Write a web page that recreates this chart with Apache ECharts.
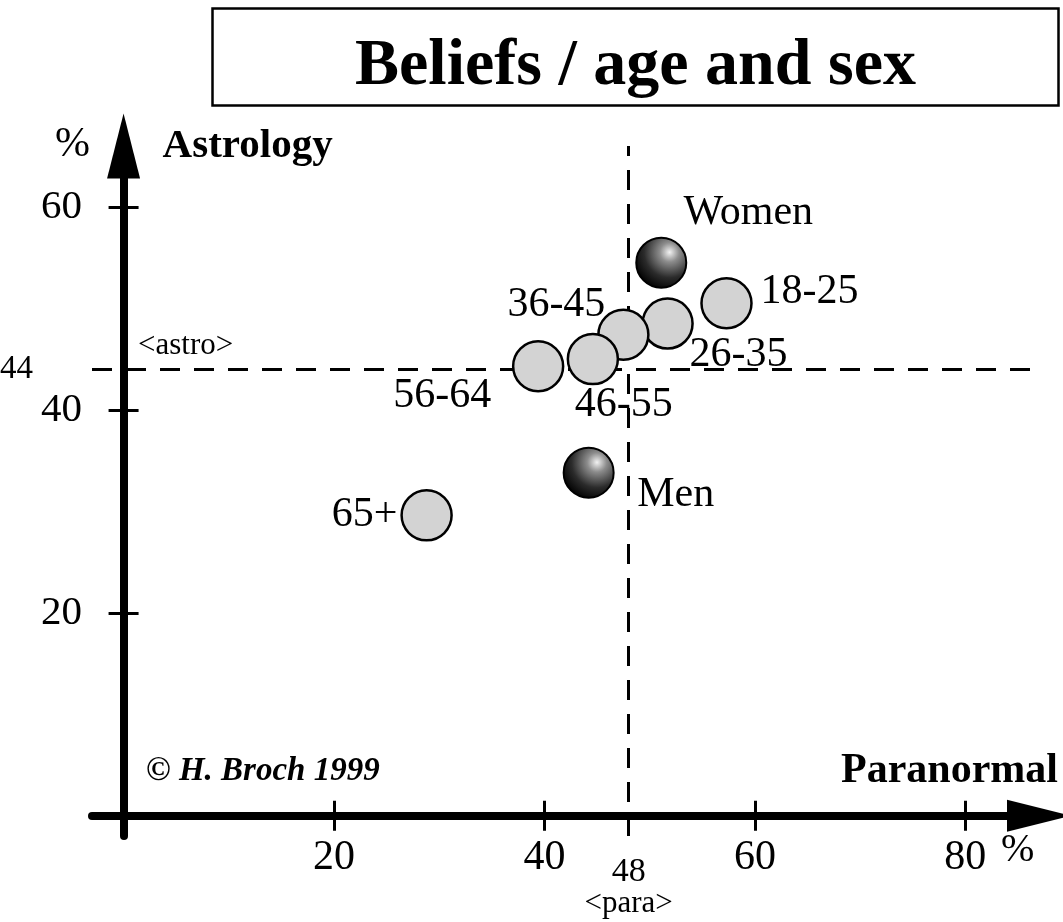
<!DOCTYPE html>
<html>
<head>
<meta charset="utf-8">
<title>Beliefs / age and sex</title>
<script src="https://cdn.jsdelivr.net/npm/echarts@6/dist/echarts.min.js"></script>
<style>
  html, body { margin: 0; padding: 0; background: #fff; }
  #chart { width: 1063px; height: 922px; }
</style>
</head>
<body>
<div id="chart"></div>
<script>
// age groups (grey discs)
var ageGroups = ['18-25', '26-35', '36-45', '46-55', '56-64', '65+'];
var ageParanormal = [57.3, 51.7, 47.5, 44.6, 39.4, 28.8];
var ageAstrology = [50.5, 48.5, 47.4, 45.0, 44.3, 29.6];
// sex (dark balls)
var sexGroups = ['Women', 'Men'];
var sexParanormal = [51.1, 44.2];
var sexAstrology = [54.5, 33.8];
// averages (dashed lines)
var meanParanormal = 48;
var meanAstrology = 44;
// tick labels
var xTickValues = [20, 40, 60, 80];
var yTickValues = [20, 40, 60];

var SERIF = "'Liberation Serif', 'DejaVu Serif', serif";

// where each name sits relative to its disc
var labelOffsets = {
	'Women': [87, -50],
	'18-25': [83, -11],
	'26-35': [71, 31],
	'36-45': [-67, -30],
	'46-55': [31, 46],
	'56-64': [-96, 30],
	'65+': [-62, 0],
	'Men': [87, 22]
};

function buildPoints(names, xs, ys) {
	var out = [];
	for (var i = 0; i < names.length; i++) {
		out.push({
			name: names[i],
			value: [xs[i], ys[i]],
			label: { offset: labelOffsets[names[i]] }
		});
	}
	return out;
}

var pointLabel = {
	show: true,
	position: 'inside',
	formatter: '{b}',
	color: '#000',
	fontFamily: SERIF,
	fontSize: 42
};

var myChart = echarts.init(document.getElementById('chart'));

var option = {
	animation: false,
	backgroundColor: '#fff',
	title: {
		text: 'Beliefs / age and sex',
		left: 212,
		top: 8,
		padding: [26, 143, 6, 143],
		borderColor: '#000',
		borderWidth: 2.5,
		textStyle: {
			fontFamily: SERIF,
			fontWeight: 'bold',
			fontSize: 66,
			color: '#000'
		}
	},
	grid: { left: 92, right: 24, top: 146, bottom: 86 },
	xAxis: [{
		type: 'value',
		min: -3,
		max: 87,
		name: 'Paranormal',
		nameLocation: 'end',
		nameGap: 19,
		nameTextStyle: {
			fontFamily: SERIF, fontWeight: 'bold', fontSize: 42, color: '#000',
			align: 'right', verticalAlign: 'bottom', padding: [0, 0, 24, 0]
		},
		axisLine: {
			onZero: true,
			symbol: ['none', 'triangle'],
			symbolSize: [32, 64],
			lineStyle: { color: '#000', width: 8 }
		},
		axisTick: { customValues: xTickValues, length: 15, lineStyle: { color: '#000', width: 3 } },
		axisLabel: { customValues: xTickValues, margin: 1, fontFamily: SERIF, fontSize: 42, color: '#000' },
		splitLine: { show: false }
	}, {
		// second half of the ticks, pointing up
		type: 'value',
		min: -3,
		max: 87,
		position: 'bottom',
		axisLine: { show: false, onZero: true, onZeroAxisIndex: 0 },
		axisTick: { customValues: xTickValues, inside: true, length: 15, lineStyle: { color: '#000', width: 3 } },
		axisLabel: { show: false },
		splitLine: { show: false }
	}],
	yAxis: [{
		type: 'value',
		min: -2,
		max: 66,
		name: 'Astrology',
		nameLocation: 'end',
		nameGap: 0,
		nameTextStyle: {
			fontFamily: SERIF, fontWeight: 'bold', fontSize: 41, color: '#000',
			align: 'left', verticalAlign: 'middle', padding: [0, 0, 0, 39]
		},
		axisLine: {
			onZero: true,
			symbol: ['none', 'triangle'],
			symbolSize: [33, 65],
			lineStyle: { color: '#000', width: 8 }
		},
		axisTick: { customValues: yTickValues, length: 15, lineStyle: { color: '#000', width: 3 } },
		axisLabel: { customValues: yTickValues, margin: 10, fontFamily: SERIF, fontSize: 41, color: '#000' },
		splitLine: { show: false }
	}, {
		type: 'value',
		min: -2,
		max: 66,
		position: 'left',
		axisLine: { show: false, onZero: true, onZeroAxisIndex: 0 },
		axisTick: { customValues: yTickValues, inside: true, length: 15, lineStyle: { color: '#000', width: 3 } },
		axisLabel: { show: false },
		splitLine: { show: false }
	}],
	graphic: [
		{ type: 'text', left: 55, top: 124, style: { text: '%', font: '42px ' + SERIF, fill: '#000' } },
		{ type: 'text', left: 1001, top: 830, style: { text: '%', font: '40px ' + SERIF, fill: '#000' } },
		{ type: 'text', left: 146, top: 755, style: { text: '© H. Broch 1999', font: 'italic bold 33px ' + SERIF, fill: '#000' } }
	],
	series: [{
		name: 'Age',
		type: 'scatter',
		z: 3,
		symbol: 'circle',
		symbolSize: 50,
		itemStyle: { color: '#d3d3d3', borderColor: '#000', borderWidth: 2.5, opacity: 1 },
		label: pointLabel,
		data: buildPoints(ageGroups, ageParanormal, ageAstrology),
		markLine: {
			silent: true,
			symbol: 'none',
			z: 1,
			lineStyle: { color: '#000', width: 3, type: [20, 14] },
			label: { color: '#000', fontFamily: SERIF },
			data: [
				{
					xAxis: meanParanormal,
					label: {
						position: 'start',
						distance: 19,
						formatter: '{v|' + meanParanormal + '}\n{n|<para>}',
						rich: {
							v: { fontFamily: SERIF, fontSize: 34, lineHeight: 34, color: '#000', align: 'center' },
							n: { fontFamily: SERIF, fontSize: 31, lineHeight: 30, color: '#000', align: 'center' }
						}
					}
				},
				{
					yAxis: meanAstrology,
					label: { position: 'start', distance: 59, formatter: String(meanAstrology), fontSize: 33 }
				},
				{
					yAxis: meanAstrology,
					label: { position: 'insideStartTop', distance: [46, 8], formatter: '<astro>', fontSize: 31 }
				}
			]
		}
	}, {
		name: 'Sex',
		type: 'scatter',
		z: 3,
		symbol: 'circle',
		symbolSize: 50,
		itemStyle: {
			color: new echarts.graphic.RadialGradient(0.66, 0.3, 0.75, [
				{ offset: 0, color: '#f2f2f2' },
				{ offset: 0.25, color: '#8c8c8c' },
				{ offset: 0.65, color: '#2b2b2b' },
				{ offset: 1, color: '#000' }
			]),
			borderColor: '#000',
			borderWidth: 2,
			opacity: 1
		},
		label: pointLabel,
		data: buildPoints(sexGroups, sexParanormal, sexAstrology)
	}]
};

myChart.setOption(option);
</script>
</body>
</html>
